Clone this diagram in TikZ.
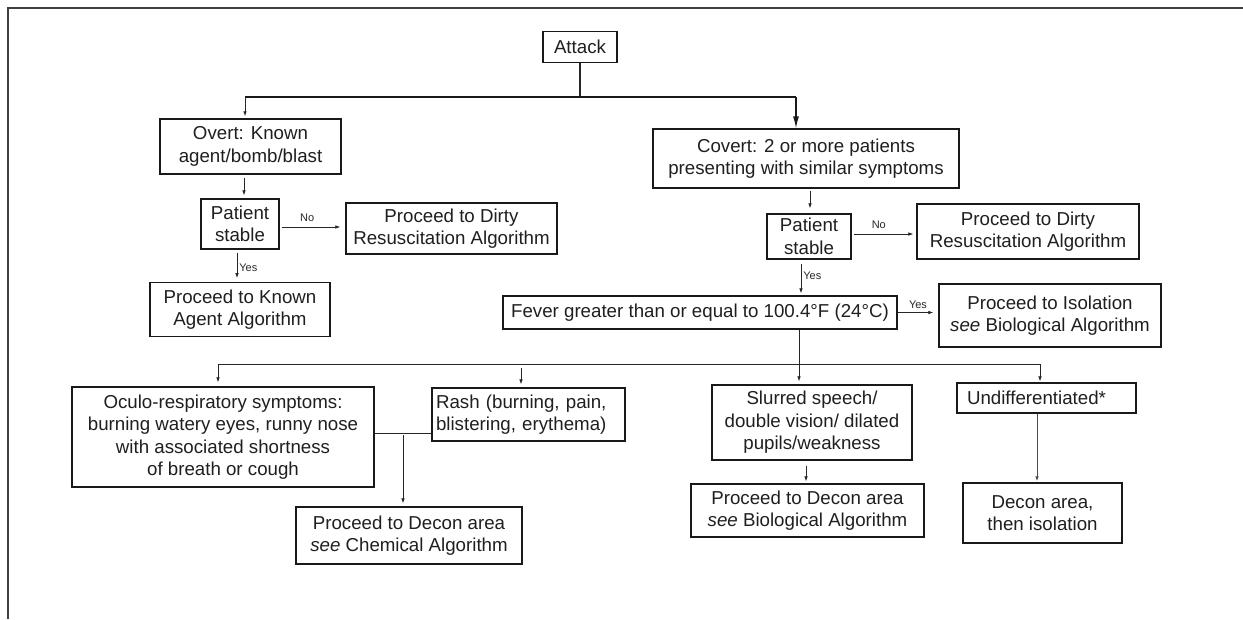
\documentclass[tikz,border=0pt]{standalone}
\usepackage{fontspec}
\setmainfont{Liberation Sans}
\usetikzlibrary{arrows.meta}
\begin{document}
\begin{tikzpicture}[x=1pt,y=-1pt,
  box/.style={draw=black!90, line width=1.3pt, fill=white, inner sep=0pt, align=center,
    font=\fontsize{18.7}{22.5}\selectfont, text=black!88},
  lbl/.style={font=\fontsize{11}{13}\selectfont, inner sep=0pt, text=black!85},
  wire/.style={line width=0.7pt, draw=black!85},
  link/.style={wire, -{Latex[length=5pt,width=3.6pt]}},
  bigarrow/.style={line width=1.3pt, draw=black!90, -{Latex[length=12pt,width=6pt]}},
]
\useasboundingbox (0,0) rectangle (1243,619);
% open frame on the left and the top
\draw[line width=1.4pt, black!75] (8,619) -- (8,8) -- (1243,8);

% ---- boxes ----
\node[box, minimum width=74, minimum height=31] (attack) at (580,47) {Attack};

\node[box, minimum width=181, minimum height=55] (overt) at (250.5,146.5) {Overt: Known\\agent/bomb/blast};
\node[box, minimum width=78, minimum height=50] (ps1) at (240,224) {Patient\\stable};
\node[box, minimum width=211, minimum height=51] (dirty1) at (451.5,228.5) {Proceed to Dirty\\Resuscitation Algorithm};
\node[box, minimum width=180, minimum height=54] (known) at (240,309.7) {Proceed to Known\\Agent Algorithm};

\node[box, minimum width=306, minimum height=59] (covert) at (806,158.5) {Covert: 2 or more patients\\presenting with similar symptoms};
\node[box, minimum width=84, minimum height=45] (ps2) at (809,236.5) {Patient\\stable};
\node[box, minimum width=222, minimum height=55] (dirty2) at (1028,231.5) {Proceed to Dirty\\Resuscitation Algorithm};
\node[box, minimum width=394, minimum height=33] (fever) at (700,312.5) {Fever greater than or equal to 100.4°F (24°C)};
\node[box, minimum width=222, minimum height=63] (isol) at (1050,315.5) {Proceed to Isolation\\\textit{see} Biological Algorithm};

\node[box, minimum width=302, minimum height=100] (oculo) at (223,437) {Oculo-respiratory symptoms:\\burning watery eyes, runny nose\\with associated shortness\\of breath or cough};
\node[box, minimum width=193, minimum height=53, text width=185, align=left] (rash) at (528.5,414.5) {Rash (burning, pain,\\blistering, erythema)};
\node[box, minimum width=226, minimum height=57] (chem) at (409,535.5) {Proceed to Decon area\\\textit{see} Chemical Algorithm};
\node[box, minimum width=200, minimum height=75] (slurred) at (812,422.5) {Slurred speech/\\double vision/ dilated\\pupils/weakness};
\node[box, minimum width=233, minimum height=53] (bio) at (807.5,510.5) {Proceed to Decon area\\\textit{see} Biological Algorithm};
\node[box, minimum width=179, minimum height=30, text width=159, align=left] (undiff) at (1046.5,398) {Undifferentiated*};
\node[box, minimum width=159, minimum height=60] (decon) at (1042.5,513) {Decon area,\\then isolation};

% ---- junction points ----
\coordinate (j0) at (580,97);
\coordinate (jL) at (245,97);
\coordinate (jR) at (796,97);
\coordinate (c1) at (244,0);
\coordinate (c2) at (0,227);
\coordinate (c3) at (237,0);
\coordinate (c4) at (810,0);
\coordinate (c5) at (0,234);
\coordinate (c6) at (801,0);
\coordinate (c7) at (799,0);
\coordinate (hL) at (218,364);
\coordinate (hR) at (1040,364);
\coordinate (hRash) at (521,368);
\coordinate (c9) at (0,433);
\coordinate (c10) at (403,433);
\coordinate (c11) at (806,0);
\coordinate (c12) at (1037,0);

% ---- connectors: top split ----
\draw[wire, line width=1.2pt] (attack.south) -- (j0);
\draw[line width=1.8pt, black!90] (jL) -- (jR);
\draw[link, line width=0.9pt, shorten >=2pt] (jL) -- (jL |- overt.north);
\draw[bigarrow] (jR) -- (jR |- covert.north);

% ---- overt branch ----
\draw[link, shorten <=3pt, shorten >=3pt] (overt.south -| c1) -- (ps1.north -| c1);
\draw[link, shorten <=2pt, shorten >=5pt] (ps1.east |- c2) -- node[lbl, above=5pt, pos=0.42] {No} (dirty1.west |- c2);
\draw[link, shorten <=3pt, shorten >=4pt] (ps1.south -| c3) -- node[lbl, right=2pt, pos=0.55] {Yes} (known.north -| c3);

% ---- covert branch ----
\draw[link, shorten <=2pt, shorten >=5pt] (covert.south -| c4) -- (ps2.north -| c4);
\draw[link, shorten <=2pt, shorten >=3pt] (ps2.east |- c5) -- node[lbl, above=5pt, pos=0.42] {No} (dirty2.west |- c5);
\draw[link, shorten <=4pt, shorten >=2pt] (ps2.south -| c6) -- node[lbl, right=2pt, pos=0.45] {Yes} (fever.north -| c6);
\draw[link, shorten >=5pt] (fever.east) -- node[lbl, above=4pt, pos=0.5] {Yes} (fever.east -| isol.west);

% ---- symptom split ----
\draw[link, shorten >=3pt] (fever.south -| c7) -- (slurred.north -| c7);
\draw[wire] (hL) -- (hR);
\draw[link, shorten >=4pt] (hL) -- (hL |- oculo.north);
\draw[link, shorten >=3pt] (hRash) -- (hRash |- rash.north);
\draw[link, shorten >=1pt] (hR) -- (hR |- undiff.north);

% ---- outcomes ----
\draw[wire] (oculo.east |- c9) -- (rash.west |- c9);
\draw[link, shorten <=2pt, shorten >=3pt] (c10) -- (c10 |- chem.north);
\draw[link, shorten <=5pt, shorten >=2pt] (slurred.south -| c11) -- (bio.north -| c11);
\draw[link, line width=1pt, black!70, shorten >=1pt] (undiff.south -| c12) -- (decon.north -| c12);
\end{tikzpicture}
\end{document}
